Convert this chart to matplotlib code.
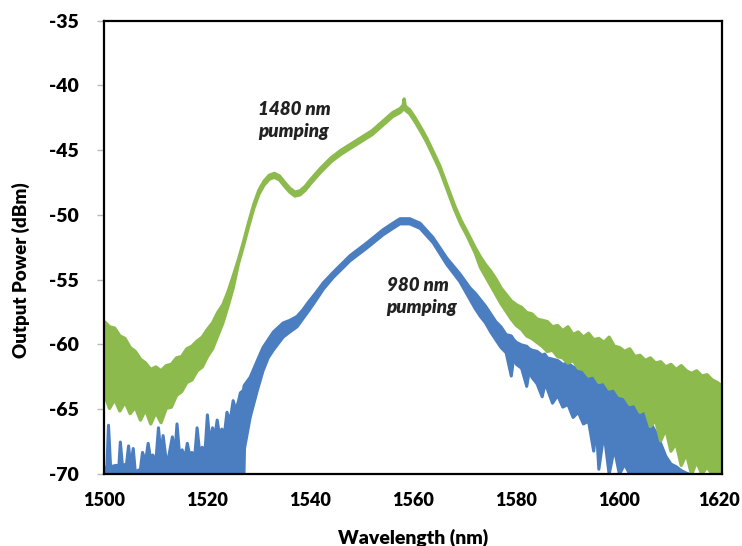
import matplotlib.pyplot as plt
import matplotlib.transforms as mtransforms
import numpy as np

# --- 1480 nm pumping (green): wavelength, upper / lower edge of the trace (dBm)
wl_1480 = [1500, 1501, 1502, 1503, 1504, 1505, 1506, 1507, 1508, 1509, 1510, 1511, 1512, 1513,
           1514, 1515, 1516, 1517, 1518, 1519, 1520, 1521, 1522, 1523, 1524, 1525,
           1526, 1527, 1528, 1529, 1530, 1531, 1532, 1533, 1534, 1535, 1536, 1537, 1538, 1539,
           1540, 1542, 1544, 1546, 1548, 1550, 1552, 1554, 1556, 1557.4, 1558.0, 1558.2, 1558.4,
           1559.3, 1560.3, 1561.5, 1562.6, 1563.8, 1565.1, 1566.5, 1568, 1569.2, 1570.4, 1572,
           1573, 1574, 1575, 1576, 1577, 1578, 1579, 1580, 1581, 1582, 1583, 1584, 1585, 1586,
           1587, 1588, 1589, 1590, 1591, 1592, 1593, 1594, 1595, 1596, 1597, 1598, 1599, 1600,
           1601, 1602, 1603, 1604, 1605, 1606, 1607, 1608, 1609, 1610, 1611, 1612, 1613, 1614,
           1615, 1616, 1617, 1618, 1619, 1620]
hi_1480 = [-58.2, -58.6, -58.7, -59.3, -59.5, -60.2, -60.5, -61.1, -61.4, -61.9, -61.7, -62.0, -61.6, -61.5,
           -61.0, -60.9, -60.3, -60.1, -59.7, -59.4, -58.8, -58.3, -57.5, -56.9, -55.9, -54.7,
           -53.45, -52.05, -50.55, -49.15, -48.05, -47.35, -46.9, -46.75, -46.95, -47.45, -47.9, -48.2, -48.1, -47.75,
           -47.25, -46.35, -45.55, -44.95, -44.45, -43.95, -43.45, -42.75, -42.05, -41.75, -41.5, -41.0, -41.55,
           -41.85, -42.45, -43.25, -44.05, -45.05, -46.15, -47.65, -49.25, -50.35, -51.25, -52.5,
           -53.2, -53.8, -54.3, -54.9, -55.6, -56.1, -56.6, -56.9, -57.1, -57.5, -57.6, -58.0, -58.1, -58.2,
           -58.6, -58.5, -58.9, -58.6, -59.2, -59.0, -59.4, -59.1, -59.6, -59.5, -59.8, -59.4, -60.1, -60.2,
           -60.5, -60.3, -60.9, -60.8, -61.2, -61.0, -61.4, -61.3, -61.7, -61.5, -61.9, -61.6, -62.0, -62.2,
           -62.0, -62.4, -62.3, -62.7, -62.9, -63.2]
lo_1480 = [-63.8, -64.9, -64.2, -65.1, -64.4, -65.3, -64.8, -65.8, -65.0, -66.1, -65.2, -66.0, -64.9, -64.8,
           -63.9, -63.6, -62.9, -62.7, -62.0, -61.7, -60.9, -60.3, -59.3, -58.3, -57.0, -55.6,
           -53.75, -52.35, -50.85, -49.45, -48.35, -47.65, -47.2, -47.05, -47.25, -47.75, -48.2, -48.5, -48.4, -48.05,
           -47.55, -46.65, -45.85, -45.25, -44.75, -44.25, -43.75, -43.05, -42.35, -42.05, -41.8, -41.8, -41.85,
           -42.15, -42.75, -43.55, -44.35, -45.35, -46.45, -47.95, -49.55, -50.65, -51.55, -52.9,
           -54.0, -54.7, -55.4, -56.1, -56.8, -57.4, -58.0, -58.5, -58.8, -59.3, -59.5, -59.8, -60.1, -60.5,
           -60.4, -60.9, -61.0, -61.4, -61.2, -61.8, -61.9, -62.4, -62.3, -62.9, -62.8, -63.4, -63.3, -63.9,
           -64.0, -64.6, -64.5, -65.2, -65.0, -66.3, -65.8, -67.4, -66.5, -68.2, -67.6, -69.3, -68.4, -70.0,
           -69.0, -70.0, -69.4, -70.0, -70.0, -70.0]

# --- 980 nm pumping (blue): wavelength, upper / lower edge of the trace (dBm)
wl_980 = [1500.0, 1500.5, 1500.8, 1501.2, 1502.3, 1502.8, 1503.1, 1503.5, 1504.3, 1504.7, 1505.1, 1505.6,
          1506.0, 1507.0, 1507.4, 1508.0, 1508.5, 1509.0, 1509.4, 1510.0, 1510.5, 1511.0, 1511.4, 1512.0,
          1512.5, 1513.2, 1513.7, 1514.1, 1514.6, 1515.1, 1515.6, 1516.1, 1516.6, 1517.0, 1517.5, 1518.0,
          1518.5, 1519.0, 1519.5, 1520.0, 1520.5, 1521.0, 1521.4, 1521.9, 1522.4, 1522.8, 1523.3, 1523.8,
          1524.4, 1525.0, 1525.5, 1526.0, 1526.4, 1527.0, 1527.1, 1527.2,
          1528.3, 1529.7, 1530.8, 1531.8, 1532.8, 1534.7, 1536.0, 1537.4, 1538.5, 1539.6, 1541.0, 1542.5, 1544.4,
          1547.7, 1551.0, 1554.1, 1556.0, 1557.4, 1559.3, 1561.3, 1563.8, 1566.5, 1569.0, 1571.0,
          1572, 1573, 1574, 1575, 1576, 1577, 1578, 1579, 1579.5, 1580, 1581, 1582, 1582.5, 1583, 1584,
          1585, 1585.5, 1586, 1587, 1588, 1589, 1590, 1591, 1592, 1593, 1594, 1595, 1595.5, 1596, 1597,
          1598, 1599, 1600, 1601, 1602, 1603, 1604, 1605, 1606, 1607, 1608, 1609, 1610, 1611, 1612,
          1613, 1613.6]
hi_980 = [-69.5, -69.4, -66.2, -69.4, -69.3, -69.5, -67.5, -69.3, -69.2, -67.8, -69.4, -68.0,
          -69.8, -69.6, -68.3, -69.0, -67.6, -68.9, -68.5, -69.0, -66.4, -68.6, -67.0, -68.9,
          -68.6, -67.1, -68.4, -66.1, -68.5, -68.1, -68.8, -67.6, -68.6, -68.3, -68.8, -66.4,
          -68.3, -67.9, -68.5, -65.4, -67.6, -66.4, -67.2, -65.8, -67.1, -66.5, -66.9, -65.2,
          -65.9, -64.3, -65.0, -64.4, -63.7, -63.5, -63.2, -63.1,
          -62.5, -61.2, -60.2, -59.6, -59.0, -58.3, -58.1, -57.8, -57.3, -56.7, -56.0, -55.2, -54.4,
          -53.1, -52.1, -51.1, -50.6, -50.25, -50.25, -50.6, -51.7, -53.3, -54.5, -55.6,
          -56.0, -56.5, -57.0, -57.6, -58.2, -58.6, -59.2, -59.3, -59.6, -59.8, -60.0, -60.1, -60.3, -60.4, -60.5,
          -60.8, -60.7, -61.0, -61.1, -61.2, -61.5, -61.4, -61.7, -61.8, -62.0, -62.1, -62.3, -62.2, -62.3, -62.6,
          -62.7, -63.0, -63.3, -63.6, -64.0, -64.5, -64.9, -65.4, -66.0, -66.7, -67.6, -68.6, -69.2, -69.4, -69.7,
          -69.9, -70.0]
lo_980 = [-70.0] * 55 + [-68.0,
          -65.6, -63.5, -62.0, -61.0, -60.4, -59.4, -59.0, -58.6, -58.0, -57.4, -56.6, -55.7, -54.8,
          -53.5, -52.5, -51.5, -51.0, -50.65, -50.65, -51.0, -52.1, -53.8, -55.1, -56.5,
          -57.2, -57.8, -58.3, -59.0, -59.6, -60.2, -60.6, -62.4, -60.9, -61.5, -61.8, -63.2, -62.0, -62.5, -63.0,
          -64.0, -63.1, -63.4, -64.5, -63.9, -64.8, -64.6, -65.6, -65.2, -66.1, -65.9, -68.2, -66.3, -69.6, -66.8,
          -70.0, -68.0, -70.0, -69.2, -70.0, -70.0, -70.0, -70.0, -70.0, -70.0, -70.0, -70.0, -70.0, -70.0, -70.0,
          -70.0, -70.0]

x_ticks = [1500, 1520, 1540, 1560, 1580, 1600, 1620]
y_ticks = [-70, -65, -60, -55, -50, -45, -40, -35]

green = '#8cba4c'
blue = '#4a7ec0'

plt.rcParams['font.family'] = ['Lato', 'DejaVu Sans']
plt.rcParams['axes.unicode_minus'] = False

fig = plt.figure(figsize=(7.42, 5.46), dpi=100)
ax = fig.add_axes([0.140, 0.132, 0.833, 0.830])

ax.fill_between(wl_980, lo_980, hi_980, color=blue, edgecolor=blue, linewidth=2.2, zorder=2)
ax.fill_between(wl_1480, lo_1480, hi_1480, color=green, edgecolor=green, linewidth=2.4, zorder=3)

ax.text(1529.9, -42.7, '1480 nm\npumping', fontsize=13.5, fontweight='heavy', style='italic',
        ha='left', va='center', linespacing=1.4, color='#222222')
ax.text(1554.9, -56.3, '980 nm\npumping', fontsize=13.5, fontweight='heavy', style='italic',
        ha='left', va='center', linespacing=1.4, color='#222222')

ax.set_xlim(1500, 1620)
ax.set_ylim(-70, -35)
ax.set_xticks(x_ticks)
ax.set_yticks(y_ticks)
ax.tick_params(axis='x', length=0, pad=13, labelsize=13)
ax.tick_params(axis='y', length=5, width=1, color='#bbbbbb', pad=13, labelsize=14)
for lab in ax.get_xticklabels() + ax.get_yticklabels():
    lab.set_fontweight('heavy')

# nudge the last x label so it stays inside the figure
last = ax.get_xticklabels()[-1]
last.set_transform(last.get_transform() + mtransforms.ScaledTranslation(-3 / 100, 0, fig.dpi_scale_trans))

for sp in ax.spines.values():
    sp.set_linewidth(1.6)
    sp.set_color('black')
    sp.set_zorder(5)

ax.set_xlabel('Wavelength (nm)', fontsize=14, fontweight='heavy')
ax.set_ylabel('Output Power (dBm)', fontsize=13.5, fontweight='heavy')
ax.xaxis.set_label_coords(0.5, -0.12)
ax.yaxis.set_label_coords(-0.12, 0.45)

fig.savefig('out.png', dpi=100)
